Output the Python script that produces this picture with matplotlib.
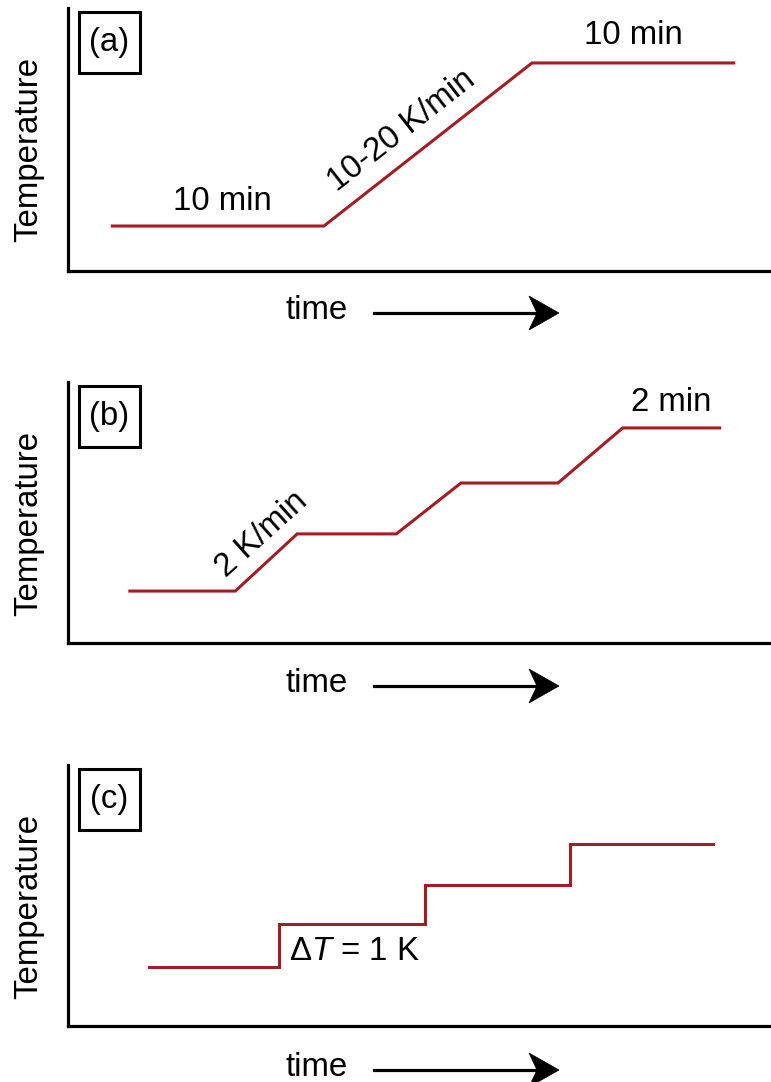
import matplotlib
matplotlib.use("Agg")
import matplotlib.pyplot as plt
from matplotlib.patches import Rectangle, Polygon

plt.rcParams["font.family"] = ["Liberation Sans", "DejaVu Sans"]
plt.rcParams["mathtext.fontset"] = "custom"
plt.rcParams["mathtext.rm"] = "Liberation Sans"
plt.rcParams["mathtext.it"] = "Liberation Sans:italic"

# temperature programmes (time, temperature in arbitrary units 0..100)
time_a = [6.3, 36.4, 66.0, 94.7]
temp_a = [17.1, 17.1, 79.1, 79.1]

time_b = [8.8, 23.8, 32.6, 46.7, 55.9, 69.7, 78.9, 92.7]
temp_b = [19.9, 19.9, 41.8, 41.8, 61.3, 61.3, 82.4, 82.4]

time_c = [11.5, 30.0, 30.0, 50.8, 50.8, 71.4, 71.4, 91.7]
temp_c = [22.6, 22.6, 39.1, 39.1, 54.0, 54.0, 69.7, 69.7]

panel_tags = ["(a)", "(b)", "(c)"]

W, H = 771, 1082
RED = "#a31d25"
FS = 23.8

fig = plt.figure(figsize=(W / 100, H / 100), dpi=100)


def fx(px):
    return px / W


def fy(py):
    return 1 - py / H


def make_axes(top, bottom):
    ax = fig.add_axes([fx(68), fy(bottom), fx(W - 68), (bottom - top) / H])
    ax.set_xlim(0, 100)
    ax.set_ylim(0, 100)
    ax.set_xticks([])
    ax.set_yticks([])
    for s in ["top", "right"]:
        ax.spines[s].set_visible(False)
    for s in ["left", "bottom"]:
        ax.spines[s].set_linewidth(2.3)
    return ax


def tag_box(ax, tag):
    ax.add_patch(Rectangle((0.016, 0.752), 0.086, 0.232, transform=ax.transAxes,
                           fill=False, lw=2.2, ec="black", clip_on=False))
    ax.text(0.059, 0.868, tag, transform=ax.transAxes, ha="center", va="center",
            fontsize=FS)


def time_arrow(y_px):
    fig.text(fx(317), fy(y_px - 3), "time", ha="center", va="center", fontsize=FS)
    fig.lines.append(plt.Line2D([fx(374), fx(540)], [fy(y_px), fy(y_px)],
                                transform=fig.transFigure, lw=2.3, color="black"))
    head = [(559, y_px), (529, y_px - 17), (537, y_px), (529, y_px + 17)]
    fig.patches.append(Polygon([(fx(x), fy(y)) for x, y in head], closed=True,
                               transform=fig.transFigure, fc="black", ec="black",
                               lw=0.5))


def temp_label(y_px):
    fig.text(fx(29), fy(y_px), "Temperature", rotation=90, ha="center",
             va="center", fontsize=FS)


# -------- (a) --------
ax = make_axes(8, 271)
ax.plot(time_a, temp_a, color=RED, lw=2.2, solid_joinstyle="miter")
ax.text(21.9, 26.5, "10 min", ha="center", va="center", fontsize=FS)
ax.text(47.5, 53.5, "10-20 K/min", ha="center", va="center", fontsize=FS,
        rotation=38, rotation_mode="anchor")
ax.text(80.4, 89.4, "10 min", ha="center", va="center", fontsize=FS)
tag_box(ax, panel_tags[0])
temp_label(149)
time_arrow(313)

# -------- (b) --------
ax = make_axes(382, 643)
ax.plot(time_b, temp_b, color=RED, lw=2.2, solid_joinstyle="miter")
ax.text(27.5, 41.8, "2 K/min", ha="center", va="center", fontsize=FS,
        rotation=42, rotation_mode="anchor")
ax.text(85.8, 92.0, "2 min", ha="center", va="center", fontsize=FS)
tag_box(ax, panel_tags[1])
temp_label(523)
time_arrow(686)

# -------- (c) --------
ax = make_axes(765, 1026)
ax.plot(time_c, temp_c, color=RED, lw=2.2, solid_joinstyle="miter")
ax.text(31.4, 28.4, r"$\Delta T$ = 1 K", ha="left", va="center", fontsize=FS)
tag_box(ax, panel_tags[2])
temp_label(906)
time_arrow(1070)

fig.savefig("out.png", dpi=100)
